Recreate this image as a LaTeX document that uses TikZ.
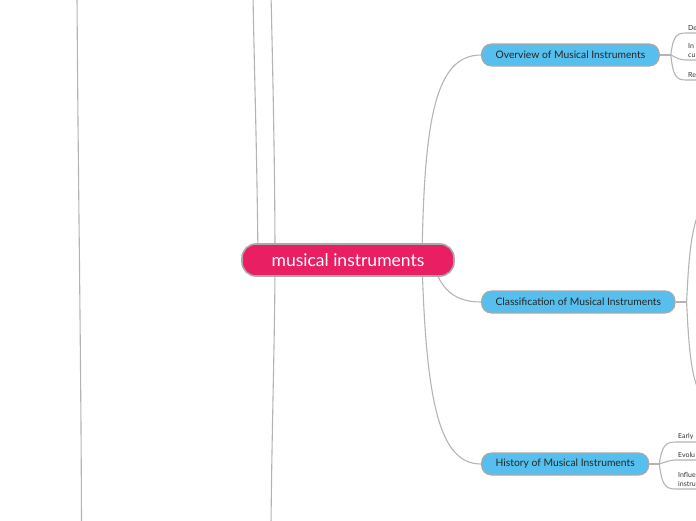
\documentclass[tikz,border=0pt]{standalone}
\usepackage{fontspec}
\setmainfont{Lato}
\usetikzlibrary{backgrounds}

\definecolor{rootred}{HTML}{E91E63}
\definecolor{topicblue}{HTML}{56BFEE}
\definecolor{edgegray}{HTML}{A9A9A9}
\definecolor{linkgray}{HTML}{B4B4B4}

\begin{document}
\begin{tikzpicture}[
                x=1pt, y=-1pt,
                every node/.style={align=left},
                rootbox/.style={rectangle, rounded corners=14pt, draw=edgegray, line width=1.6pt,
                        fill=rootred, text=white, minimum width=212pt, minimum height=32pt,
                        font=\fontsize{17.5}{19}\selectfont},
                topicbox/.style={rectangle, rounded corners=10pt, draw=edgegray, line width=1.2pt,
                        fill=topicblue, text=black!85, anchor=west, inner xsep=14pt,
                        minimum height=22pt, font=\fontsize{10.3}{12}\selectfont},
                leaf/.style={anchor=south west, inner xsep=2pt, inner ysep=2.5pt,
                        text=black!80, font=\fontsize{7}{9}\selectfont},
                link/.style={draw=linkgray, line width=1.1pt},
            ]
            \useasboundingbox (0,0) rectangle (696,520);
            \clip (0,0) rectangle (696,520);

            \node[rootbox] (root) at (348,260) {musical instruments};
            \node[topicbox] (ovw) at (481,55) {Overview of Musical Instruments};
            \node[topicbox] (cls) at (481,302) {Classification of Musical Instruments};
            \node[topicbox] (hist) at (481,464) {History of Musical Instruments};

            \node[leaf] (ovwa) at (686,33) {De};
            \node[leaf] (ovwb) at (686,60) {In\\cu};
            \node[leaf] (ovwc) at (686,80) {Re};
            \node[leaf] (hista) at (676,442) {Early};
            \node[leaf] (histb) at (676,460) {Evolu};
            \node[leaf] (histc) at (676,489) {Influe\\instru};

            \coordinate (farA) at (77,-5);
            \coordinate (farB) at (81.5,525);
            \coordinate (upA) at (253,-5);
            \coordinate (upB) at (271,-5);
            \coordinate (downB) at (271,525);
            \coordinate (clsup) at (702,205);
            \coordinate (clsdown) at (702,398);

            \begin{pgfonlayer}{background}
            \draw[link] (farA) .. controls (78,170) and (81,350) .. (farB);
            \draw[link] (root.center) ++(-90,0) .. controls (257,150) and (254,60) .. (upA);
            \draw[link] (upB) .. controls (274,120) and (275,200) .. (275,260)
                    .. controls (275,330) and (272,420) .. (downB);

            \draw[link] (root.center) ++(74,0) .. controls (424,120) and (435,55) .. (ovw.west);
            \draw[link] (root.center) ++(84,0) .. controls (440,290) and (455,302) .. (cls.west);
            \draw[link] (root.center) ++(74,0) .. controls (426,405) and (440,464) .. (hist.west);

            \draw[link] (ovw.east) -- ++(11,0) coordinate (ovwj);
            \draw[link] (ovwj) .. controls (673,37) and (676,33) .. (ovwa.south west) -- ++(30,0);
            \draw[link] (ovwj) .. controls (677,58) and (680,60) .. (ovwb.south west) -- ++(30,0);
            \draw[link] (ovwj) .. controls (673,76) and (676,80) .. (ovwc.south west) -- ++(30,0);

            \draw[link] (cls.east) -- ++(11,0) coordinate (clsj);
            \draw[link] (clsj) .. controls (689,250) and (692,225) .. (clsup);
            \draw[link] (clsj) .. controls (689,355) and (692,380) .. (clsdown);

            \draw[link] (hist.east) -- ++(10,0) coordinate (histj);
            \draw[link] (histj) .. controls (662,446) and (665,442) .. (hista.south west) -- ++(30,0);
            \draw[link] (histj) .. controls (666,462) and (670,460) .. (histb.south west) -- ++(30,0);
            \draw[link] (histj) .. controls (662,485) and (665,489) .. (histc.south west) -- ++(30,0);
            \end{pgfonlayer}

        \end{tikzpicture}
\end{document}
